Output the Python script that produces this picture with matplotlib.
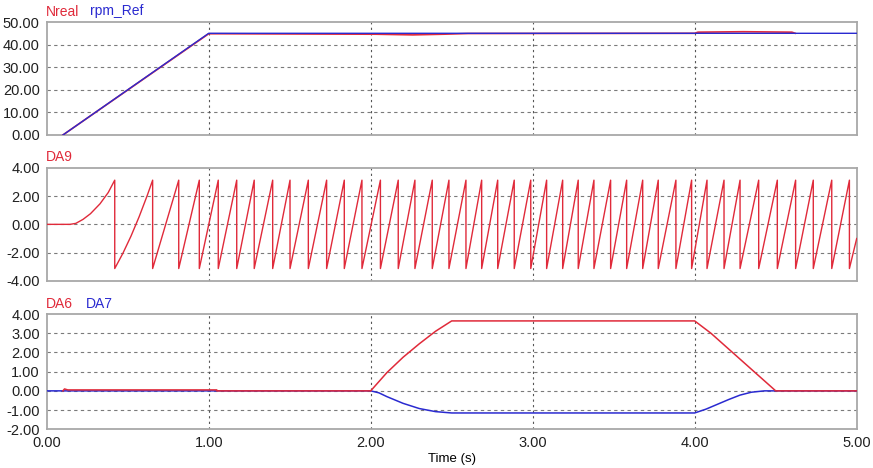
import matplotlib
matplotlib.use("Agg")
import matplotlib.pyplot as plt
import numpy as np

plt.rcParams['font.family'] = ['Liberation Sans', 'DejaVu Sans']

red = "#e02a3a"
blue = "#2a2ad0"
frame_color = "#a8a8a8"
grid_color = "#7a7a7a"

# ---- panel 1: speed ----
ref_t = [0.1, 1.0, 5.0]
ref_v = [0.0, 45.0, 45.0]
nreal_t = [0.1, 1.0, 1.07, 2.03, 2.26, 2.45, 2.6, 4.0, 4.02, 4.3, 4.6, 4.62]
nreal_v = [0.0, 44.8, 44.8, 44.6, 44.3, 44.6, 44.9, 45.0, 45.5, 45.7, 45.5, 45.0]

# ---- panel 2: DA9 (wrapped angle) ----
da9_start_t = [0.0, 0.1, 0.144, 0.18, 0.224, 0.27, 0.329, 0.38, 0.42]
da9_start_v = [0.0, 0.0, 0.0, 0.07, 0.35, 0.75, 1.45, 2.25, 3.12]
da9_mid_t = [0.47, 0.52, 0.57, 0.62]  # curvature inside the second ramp
da9_mid_v = [-2.05, -0.84, 0.52, 2.02]
wrap_times = [0.42, 0.654, 0.815, 0.942, 1.059, 1.173, 1.281, 1.395, 1.502,
              1.615, 1.728, 1.837, 1.946, 2.060, 2.170, 2.273, 2.380, 2.483,
              2.588, 2.685, 2.784, 2.886, 2.988, 3.086, 3.185, 3.281, 3.378,
              3.481, 3.580, 3.679, 3.775, 3.884, 3.981, 4.076, 4.181, 4.280,
              4.395, 4.510, 4.623, 4.732, 4.846, 4.955]
da9_peak = 3.12
da9_end = (5.0, -1.0)

# ---- panel 3: DA6 / DA7 ----
da6_t = [0.1, 0.11, 0.13, 1.05, 1.05, 2.0, 2.1, 2.2, 2.3, 2.4, 2.5, 4.0, 4.1, 4.2, 4.3, 4.4, 4.5, 5.0]
da6_v = [0.0, 0.1, 0.05, 0.05, 0.0, 0.0, 0.95, 1.75, 2.45, 3.1, 3.64, 3.64, 3.0, 2.25, 1.5, 0.75, 0.0, 0.0]
da7_t = [0.0, 2.0, 2.05, 2.1, 2.2, 2.3, 2.4, 2.5, 4.0, 4.07, 4.14, 4.21, 4.28, 4.35, 4.43, 5.0]
da7_v = [0.0, 0.0, -0.1, -0.3, -0.65, -0.92, -1.08, -1.15, -1.15, -0.95, -0.7, -0.45, -0.22, -0.07, 0.0, 0.0]

# build the sawtooth from the wrap times
saw_t = list(da9_start_t)
saw_v = list(da9_start_v)
for i in range(len(wrap_times) - 1):
    saw_t.append(wrap_times[i])
    saw_v.append(-da9_peak)
    if i == 0:
        saw_t += da9_mid_t
        saw_v += da9_mid_v
    saw_t.append(wrap_times[i + 1])
    saw_v.append(da9_peak)
saw_t.append(wrap_times[-1])
saw_v.append(-da9_peak)
saw_t.append(da9_end[0])
saw_v.append(da9_end[1])

fig = plt.figure(figsize=(8.73, 4.68), dpi=100)
fig.patch.set_facecolor("white")

left = 46.7 / 873
width = 810 / 873
H = 468.0
boxes = [(22, 135), (167.7, 281), (314, 429.3)]
axes = []
for top, bot in boxes:
    ax = fig.add_axes([left, 1 - bot / H, width, (bot - top) / H])
    axes.append(ax)

ylims = [(0, 50), (-4, 4), (-2, 4)]
yticks = [np.arange(0, 51, 10), np.arange(-4, 4.1, 2), np.arange(-2, 4.1, 1)]

for ax, yl, yt in zip(axes, ylims, yticks):
    ax.set_xlim(0, 5)
    ax.set_ylim(*yl)
    ax.set_yticks(yt)
    ax.set_yticklabels(["%.2f" % v for v in yt])
    ax.set_xticks(np.arange(0, 5.1, 1))
    ax.tick_params(length=0, labelsize=10.5, pad=5, colors="#202020")
    for s in ax.spines.values():
        s.set_color(frame_color)
        s.set_linewidth(1.3)
    for v in yt[1:-1]:
        ax.axhline(v, color=grid_color, lw=0.8, ls=(0, (3, 3)), zorder=1)
    for v in [1, 2, 3, 4]:
        ax.axvline(v, color="#555555", lw=0.8, ls=(0, (2, 3)), zorder=1)

for ax in axes[:2]:
    ax.set_xticklabels([])

ax1, ax2, ax3 = axes
ax1.plot(nreal_t, nreal_v, color=red, lw=1.2, zorder=3)
ax1.plot(ref_t, ref_v, color=blue, lw=1.0, zorder=4)

ax2.plot(saw_t, saw_v, color=red, lw=1.0, zorder=3)

ax3.plot(da7_t, da7_v, color=blue, lw=1.1, zorder=3)
ax3.plot(da6_t, da6_v, color=red, lw=1.1, zorder=4)

ax3.set_xticklabels(["%.2f" % v for v in np.arange(0, 5.1, 1)])
ax3.tick_params(axis="x", pad=5)
ax3.set_xlabel("Time (s)", fontsize=9.5, labelpad=2)

fig.text(46 / 873, 1 - 11.5 / H, "Nreal", color=red, fontsize=10, va="center")
fig.text(90 / 873, 1 - 11.5 / H, "rpm_Ref", color=blue, fontsize=10, va="center")
fig.text(46 / 873, 1 - 157 / H, "DA9", color=red, fontsize=10, va="center")
fig.text(46 / 873, 1 - 304 / H, "DA6", color=red, fontsize=10, va="center")
fig.text(86 / 873, 1 - 304 / H, "DA7", color=blue, fontsize=10, va="center")

fig.savefig("out.png", dpi=100, facecolor="white")
